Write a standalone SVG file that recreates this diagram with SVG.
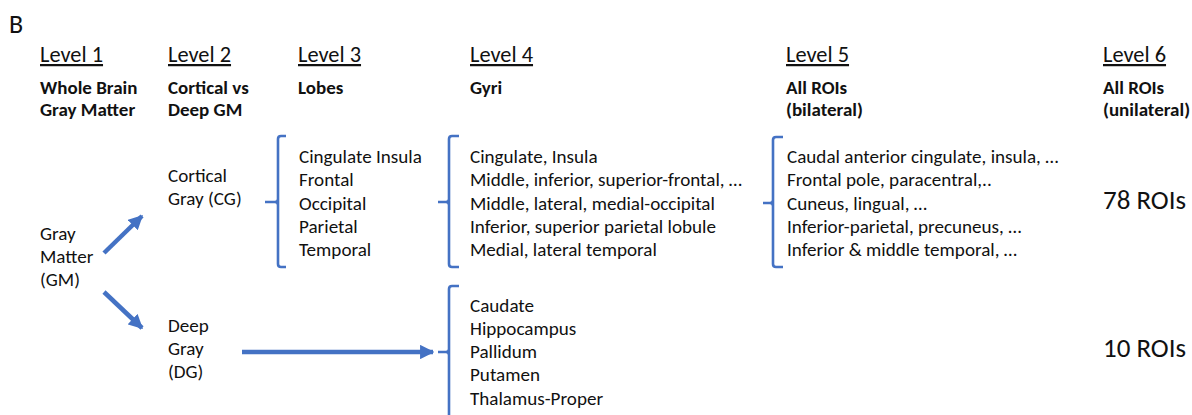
<svg xmlns="http://www.w3.org/2000/svg" width="1192" height="415" viewBox="0 0 1192 415">
<defs>
<style>
text{font-family:Carlito,Lato,"Open Sans",sans-serif;fill:#111}
.hd{font-size:22.4px;text-decoration:underline}
.sb{font-size:19px;font-weight:bold}
.tx{font-size:19.1px}
.big{font-size:27px}
.br{fill:none;stroke:#4472C4;stroke-width:2.6;stroke-linejoin:round}
.ar{stroke:#4472C4;stroke-width:4.5;fill:none}
</style>
<marker id="ah" viewBox="0 0 10 10" refX="9" refY="5" markerWidth="3.2" markerHeight="3.2" orient="auto" markerUnits="strokeWidth">
<path d="M0,0 L10,5 L0,10 z" fill="#4472C4"/>
</marker>
</defs>
<rect width="1192" height="415" fill="#fff"/>
<text x="9" y="33" style="font-size:26px">B</text>
<g id="headers">
<text class="hd" x="40" y="62">Level 1</text>
<text class="hd" x="168" y="62">Level 2</text>
<text class="hd" x="298" y="62">Level 3</text>
<text class="hd" x="470" y="62">Level 4</text>
<text class="hd" x="786" y="62">Level 5</text>
<text class="hd" x="1103" y="62">Level 6</text>
<text class="sb" x="40" y="94">Whole Brain</text>
<text class="sb" x="40" y="116">Gray Matter</text>
<text class="sb" x="168" y="94">Cortical vs</text>
<text class="sb" x="168" y="116">Deep GM</text>
<text class="sb" x="298" y="94">Lobes</text>
<text class="sb" x="470" y="94">Gyri</text>
<text class="sb" x="786" y="94">All ROIs</text>
<text class="sb" x="786" y="116">(bilateral)</text>
<text class="sb" x="1103" y="94">All ROIs</text>
<text class="sb" x="1103" y="116">(unilateral)</text>
</g>
<g id="gm">
<text class="tx" x="40" y="240">Gray</text>
<text class="tx" x="40" y="263">Matter</text>
<text class="tx" x="40" y="286">(GM)</text>
</g>
<g id="cg">
<text class="tx" x="168" y="182">Cortical</text>
<text class="tx" x="168" y="205">Gray (CG)</text>
</g>
<g id="dg">
<text class="tx" x="168" y="332">Deep</text>
<text class="tx" x="168" y="355">Gray</text>
<text class="tx" x="168" y="378">(DG)</text>
</g>
<g id="lobes">
<path class="br" d="M286,136 H281 Q278,136 278,139 V264 Q278,267 281,267 H286 M265,202 H275 Q278,202 278,199 M278,205 Q278,202 275,202"/>
<text class="tx" x="299" y="163">Cingulate Insula</text>
<text class="tx" x="299" y="186">Frontal</text>
<text class="tx" x="299" y="210">Occipital</text>
<text class="tx" x="299" y="233">Parietal</text>
<text class="tx" x="299" y="256">Temporal</text>
</g>
<g id="gyri">
<path class="br" d="M459,136 H452 Q449,136 449,139 V264 Q449,267 452,267 H459 M438,202 H446 Q449,202 449,199 M449,205 Q449,202 446,202"/>
<text class="tx" x="470" y="163">Cingulate, Insula</text>
<text class="tx" x="470" y="186">Middle, inferior, superior-frontal, …</text>
<text class="tx" x="470" y="210">Middle, lateral, medial-occipital</text>
<text class="tx" x="470" y="233">Inferior, superior parietal lobule</text>
<text class="tx" x="470" y="256">Medial, lateral temporal</text>
</g>
<g id="rois">
<path class="br" d="M783,137 H776 Q773,137 773,140 V264 Q773,267 776,267 H783 M763,203 H770 Q773,203 773,200 M773,206 Q773,203 770,203"/>
<text class="tx" x="787" y="163">Caudal anterior cingulate, insula, …</text>
<text class="tx" x="787" y="186">Frontal pole, paracentral,..</text>
<text class="tx" x="787" y="210">Cuneus, lingual, …</text>
<text class="tx" x="787" y="233">Inferior-parietal, precuneus, …</text>
<text class="tx" x="787" y="256">Inferior &amp; middle temporal, …</text>
</g>
<g id="deep">
<path class="br" d="M459,286 H452 Q449,286 449,289 V416 M438,352 H446 Q449,352 449,349 M449,355 Q449,352 446,352"/>
<text class="tx" x="470" y="312">Caudate</text>
<text class="tx" x="470" y="335">Hippocampus</text>
<text class="tx" x="470" y="358">Pallidum</text>
<text class="tx" x="470" y="381">Putamen</text>
<text class="tx" x="470" y="405">Thalamus-Proper</text>
</g>
<g id="count78"><text class="big" x="1103" y="209">78 ROIs</text></g>
<g id="count10"><text class="big" x="1103" y="357">10 ROIs</text></g>
<g id="connectors">
<line class="ar" x1="104" y1="253" x2="142" y2="216" marker-end="url(#ah)"/>
<line class="ar" x1="104" y1="292" x2="142" y2="328" marker-end="url(#ah)"/>
<line class="ar" x1="242" y1="352" x2="433" y2="352" marker-end="url(#ah)"/>
</g>
</svg>
